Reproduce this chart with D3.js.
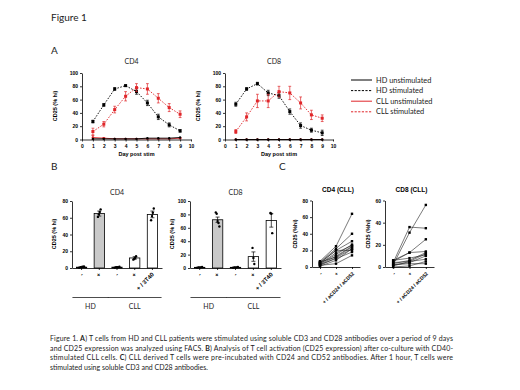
<!DOCTYPE html>
<html><head><meta charset="utf-8">
<script src="https://cdn.jsdelivr.net/npm/d3@7"></script>
<style>
body{margin:0;background:#fff}
svg{display:block;font-family:Arial,"Liberation Sans",sans-serif}
.ax path,.ax line{stroke:#000;stroke-width:0.8}
.ax text{font-size:5px;font-weight:bold;fill:#000;font-family:Arial,"Liberation Sans",sans-serif}
.soft{font-family:Lato,"Open Sans",sans-serif;fill:#222}
.ylab{font-size:5.5px;font-weight:bold}
</style></head><body>
<svg width="520" height="390"></svg>
<script>
const svg = d3.select("svg");
const red = "#e0262a";

// panel A: CD25 time course
const days = [1, 2, 3, 4, 5, 6, 7, 8, 9];
const cd4HdUnstim = [1, 1, 1, 1, 1, 2, 2, 2, 3];
const cd4HdStim = [27, 52, 76, 81, 72, 55, 34, 22, 13];
const cd4HdStimErr = [2, 2, 2, 1, 4, 4, 4, 3, 2];
const cd4CllUnstim = [3, 2, 1, 1, 1, 1, 1, 1, 2];
const cd4CllUnstimErr = [3, 1, 0, 0, 0, 0, 0, 0, 1];
const cd4CllStim = [12, 23, 45, 65, 78, 76, 62, 48, 38];
const cd4CllStimErr = [5, 4, 5, 7, 6, 8, 7, 6, 5];
const cd8HdUnstim = [0, 0, 0, 0, 0, 0, 0, 0, 0];
const cd8HdStim = [53, 76, 84, 70, 66, 42, 21, 14, 10];
const cd8HdStimErr = [3, 2, 2, 4, 4, 4, 4, 3, 4];
const cd8CllUnstim = [0, 0, 0, 0, 0, 0, 0, 0, 0];
const cd8CllStim = [12, 34, 58, 58, 72, 70, 55, 37, 32];
const cd8CllStimErr = [3, 6, 10, 10, 8, 10, 9, 7, 5];
const dayTicks = [0, 1, 2, 3, 4, 5, 6, 7, 8, 9, 10];
const pctTicks = [0, 20, 40, 60, 80, 100];

const legendLabels = ["HD unstimulated", "HD stimulated", "CLL unstimulated", "CLL stimulated"];
const legendColors = ["#000", "#000", red, red];
const legendDashed = [false, true, false, true];

// panel B: co-culture bars
const barCats = ["hdU", "hdS", "cllU", "cllS", "cll3T40"];
const barLabels = ["-", "+", "-", "+", "+ / 3T40"];
const barFills = ["#fff", "#c9c9c9", "#fff", "#fff", "#fff"];
const cd4BarMeans = [1, 65, 1, 12, 64];
const cd4BarErr = [0.4, 3, 0.3, 1.5, 4];
const cd4BarPts = [[0.5, 1, 1.5, 2], [61, 64, 67, 70], [0.5, 1, 1, 1.5], [10, 11, 12, 14], [57, 62, 66, 71]];
const cd8BarMeans = [1, 72, 1, 17, 71];
const cd8BarErr = [0.4, 4, 0.4, 7, 10];
const cd8BarPts = [[0.5, 1, 1, 1.5], [83, 81, 70, 67, 62], [0.5, 1, 1, 1.5], [30, 15, 6], [82, 81, 52]];
const groupLabels = ["HD", "CLL"];
const groupSpans = [[0, 1], [2, 4]];

// panel C: paired CLL samples
const pairLabels = ["-", "+", "+ / aCD24 / aCD52"];
const cd4Pairs = [
  [7, 25, 64], [6, 22, 40], [5, 20, 31], [4, 15, 27], [3, 13, 25], [6, 12, 24],
  [2, 11, 22], [5, 20, 20], [1, 8, 22], [3, 10, 18], [2, 4, 14], [4, 17, 26]
];
const cd8Pairs = [
  [2, 31, 56], [4, 36, 35], [6, 13, 25], [5, 13, 14], [3, 6, 13], [1, 5, 12],
  [2, 4, 10], [4, 5, 7], [0, 1, 5], [2, 3, 3], [6, 8, 11]
];

const captionLines = [
  [["Figure 1. ", 0], ["A", 1], [") T cells from HD and CLL patients were stimulated using soluble CD3 and CD28 antibodies over a period  of 9 days", 0]],
  [["and CD25 expression was analyzed using FACS. ", 0], ["B", 1], [") Analysis of T cell activation (CD25 expression) after co-culture with CD40-", 0]],
  [["stimulated CLL cells. ", 0], ["C", 1], [") CLL derived T cells were pre-incubated with CD24 and CD52 antibodies. After 1 hour, T cells were", 0]],
  [["stimulated using soluble CD3 and CD28  antibodies.", 0]]
];

svg.append("rect").attr("width", 520).attr("height", 390).attr("fill", "#fff");

svg.append("text").attr("class", "soft").attr("x", 51).attr("y", 21)
  .style("font-size", "10px").text("Figure 1");
[["A", 51, 54], ["B", 51, 170], ["C", 279, 170]].forEach(([t, x, y]) => {
  svg.append("text").attr("class", "soft").attr("x", x).attr("y", y)
    .style("font-size", "10px").text(t);
});

function yLabel(x, y, txt) {
  svg.append("text").attr("class", "ylab")
    .attr("transform", `translate(${x},${y}) rotate(-90)`)
    .attr("text-anchor", "middle").text(txt);
}

function errBar(g, x, y, lo, hi, color, cap) {
  g.append("line").attr("x1", x).attr("x2", x).attr("y1", y(lo)).attr("y2", y(hi))
    .attr("stroke", color).attr("stroke-width", 0.7);
  [lo, hi].forEach(v => {
    g.append("line").attr("x1", x - cap).attr("x2", x + cap).attr("y1", y(v)).attr("y2", y(v))
      .attr("stroke", color).attr("stroke-width", 0.7);
  });
}

function timecourse(x0, x1, title, series) {
  const x = d3.scaleLinear().domain([0, 10]).range([x0, x1]);
  const y = d3.scaleLinear().domain([0, 100]).range([139.5, 73]);
  const g = svg.append("g");

  g.append("text").attr("class", "soft").attr("x", (x0 + x1) / 2 - 5).attr("y", 64)
    .attr("text-anchor", "middle").style("font-size", "7px").text(title);

  series.forEach(s => {
    const pts = days.map((d, i) => ({ d, v: s.vals[i], e: s.err ? s.err[i] : 0 }));
    const line = d3.line().x(p => x(p.d)).y(p => y(p.v));
    g.append("path").datum(pts).attr("d", line).attr("fill", "none")
      .attr("stroke", s.color).attr("stroke-width", 0.9)
      .attr("stroke-dasharray", s.dashed ? "1.6,1.4" : null);
    pts.forEach(p => {
      if (p.e > 0) errBar(g, x(p.d), y, p.v - p.e, p.v + p.e, s.color, 1.4);
    });
    if (s.dashed) {
      g.selectAll(null).data(pts).join("rect")
        .attr("x", p => x(p.d) - 1.5).attr("y", p => y(p.v) - 1.5)
        .attr("width", 3).attr("height", 3).attr("fill", s.color);
    } else {
      g.selectAll(null).data(pts).join("circle")
        .attr("cx", p => x(p.d)).attr("cy", p => y(p.v)).attr("r", 1.2).attr("fill", s.color);
    }
  });

  g.append("g").attr("class", "ax").attr("transform", "translate(0,139.5)")
    .call(d3.axisBottom(x).tickValues(dayTicks).tickSize(2).tickSizeOuter(0).tickPadding(3));
  g.append("g").attr("class", "ax").attr("transform", `translate(${x0},0)`)
    .call(d3.axisLeft(y).tickValues(pctTicks).tickSize(2).tickSizeOuter(0).tickPadding(2));

  g.append("text").attr("x", (x0 + x1) / 2).attr("y", 156).attr("text-anchor", "middle")
    .style("font-size", "5.5px").style("font-weight", "bold").text("Day post stim");
  yLabel(x0 - 25, 106, "CD25 (% hi)");
}

timecourse(82, 191, "CD4", [
  { vals: cd4CllUnstim, err: cd4CllUnstimErr, color: red, dashed: false },
  { vals: cd4HdUnstim, color: "#000", dashed: false },
  { vals: cd4HdStim, err: cd4HdStimErr, color: "#000", dashed: true },
  { vals: cd4CllStim, err: cd4CllStimErr, color: red, dashed: true }
]);
timecourse(225, 333, "CD8", [
  { vals: cd8CllUnstim, color: red, dashed: false },
  { vals: cd8HdUnstim, color: "#000", dashed: false },
  { vals: cd8HdStim, err: cd8HdStimErr, color: "#000", dashed: true },
  { vals: cd8CllStim, err: cd8CllStimErr, color: red, dashed: true }
]);

// legend
const legend = svg.append("g");
legendLabels.forEach((lab, i) => {
  const ly = 80 + i * 10.6;
  legend.append("line").attr("x1", 351).attr("x2", 372).attr("y1", ly).attr("y2", ly)
    .attr("stroke", legendColors[i]).attr("stroke-width", 1)
    .attr("stroke-dasharray", legendDashed[i] ? "2.2,1.4" : null);
  legend.append("text").attr("class", "soft").attr("x", 376).attr("y", ly + 2.5)
    .style("font-size", "7.4px").text(lab);
});

function barPanel(x0, x1, title, ymax, yticks, means, errs, pts) {
  const x = d3.scaleBand().domain(barCats).range([x0, x1]).paddingInner(0.42).paddingOuter(0.25);
  const y = d3.scaleLinear().domain([0, ymax]).range([268, 201]);
  const g = svg.append("g");

  g.append("text").attr("class", "soft").attr("x", (x0 + x1) / 2).attr("y", 195)
    .attr("text-anchor", "middle").style("font-size", "7px").text(title);

  g.selectAll(null).data(barCats).join("rect")
    .attr("x", c => x(c)).attr("y", (c, i) => y(means[i]))
    .attr("width", x.bandwidth()).attr("height", (c, i) => y(0) - y(means[i]))
    .attr("fill", (c, i) => barFills[i]).attr("stroke", "#000").attr("stroke-width", 0.8);

  barCats.forEach((c, i) => {
    const cx = x(c) + x.bandwidth() / 2;
    errBar(g, cx, y, means[i] - errs[i], means[i] + errs[i], "#000", 2);
    g.selectAll(null).data(pts[i]).join("circle")
      .attr("cx", (v, j) => cx + (j - (pts[i].length - 1) / 2) * (i % 2 === 0 && i < 3 ? 1.6 : 0.9))
      .attr("cy", v => y(v)).attr("r", 1.2).attr("fill", "#000");
  });

  g.append("g").attr("class", "ax").attr("transform", "translate(0,268)")
    .call(d3.axisBottom(x).tickSize(2).tickSizeOuter(0).tickFormat((c, i) => barLabels[i]))
    .call(a => a.selectAll("text").attr("text-anchor", "end").attr("dy", null)
      .attr("transform", "translate(2,7) rotate(-45)").attr("y", 0).attr("x", 0)
      .style("font-size", "6px"));
  g.append("g").attr("class", "ax").attr("transform", `translate(${x0},0)`)
    .call(d3.axisLeft(y).tickValues(yticks).tickSize(2).tickSizeOuter(0).tickPadding(2));
  yLabel(x0 - 16, 234, "CD25 (% hi)");

  groupSpans.forEach(([a, b], k) => {
    const gx0 = x(barCats[a]) - 4, gx1 = x(barCats[b]) + x.bandwidth() + 4;
    g.append("line").attr("x1", gx0).attr("x2", gx1).attr("y1", 297.5).attr("y2", 297.5)
      .attr("stroke", "#000").attr("stroke-width", 0.7);
    g.append("text").attr("class", "soft").attr("x", (gx0 + gx1) / 2).attr("y", 309)
      .attr("text-anchor", "middle").style("font-size", "7px").text(groupLabels[k]);
  });
}

barPanel(72, 162, "CD4", 80, [0, 20, 40, 60, 80], cd4BarMeans, cd4BarErr, cd4BarPts);
barPanel(190, 281, "CD8", 100, [0, 20, 40, 60, 80, 100], cd8BarMeans, cd8BarErr, cd8BarPts);

function pairPanel(x0, x1, title, ymax, yticks, rows) {
  const x = d3.scalePoint().domain(pairLabels).range([x0, x1]).padding(0.5);
  const y = d3.scaleLinear().domain([0, ymax]).range([267, 200.5]);
  const g = svg.append("g");

  g.append("text").attr("x", (x0 + x1) / 2 + 2).attr("y", 192).attr("text-anchor", "middle")
    .style("font-size", "6.5px").style("font-weight", "bold").text(title);

  const line = d3.line().x((v, i) => x(pairLabels[i])).y(v => y(v));
  rows.forEach(r => {
    g.append("path").datum(r).attr("d", line).attr("fill", "none")
      .attr("stroke", "#222").attr("stroke-width", 0.6);
    g.selectAll(null).data(r).join("rect")
      .attr("x", (v, i) => x(pairLabels[i]) - 1.2).attr("y", v => y(v) - 1.2)
      .attr("width", 2.4).attr("height", 2.4).attr("fill", "#000");
  });

  g.append("g").attr("class", "ax").attr("transform", "translate(0,267)")
    .call(d3.axisBottom(x).tickSize(2).tickSizeOuter(0))
    .call(a => a.selectAll("text").attr("text-anchor", "end").attr("dy", null)
      .attr("transform", "translate(2,7) rotate(-45)").attr("y", 0).attr("x", 0)
      .style("font-size", "5px"));
  g.append("g").attr("class", "ax").attr("transform", `translate(${x0},0)`)
    .call(d3.axisLeft(y).tickValues(yticks).tickSize(2).tickSizeOuter(0).tickPadding(2));
  yLabel(x0 - 15, 234, "CD25 (%hi)");
}

pairPanel(312, 360, "CD4 (CLL)", 80, [0, 20, 40, 60, 80], cd4Pairs);
pairPanel(385, 434, "CD8 (CLL)", 60, [0, 20, 40, 60], cd8Pairs);

// caption
captionLines.forEach((parts, i) => {
  const t = svg.append("text").attr("class", "soft").attr("x", 50).attr("y", 341 + i * 9.5)
    .style("font-size", "7px");
  if (i < 3) t.attr("textLength", 403).attr("lengthAdjust", "spacing");
  parts.forEach(([s, b]) => t.append("tspan").style("font-weight", b ? "bold" : null).text(s));
});
</script>
</body></html>
